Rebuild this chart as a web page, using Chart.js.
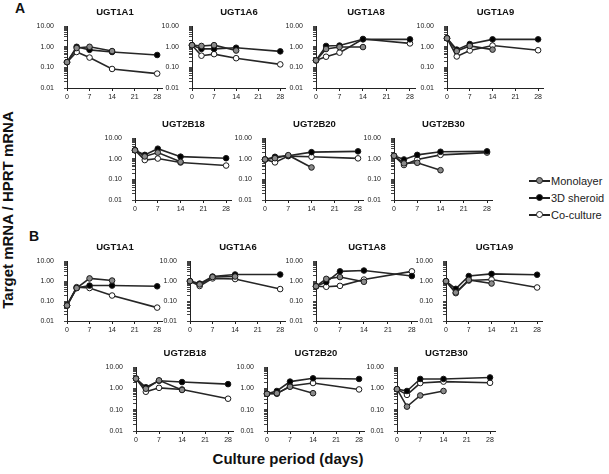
<!DOCTYPE html>
<html>
<head>
<meta charset="utf-8">
<script src="https://cdn.jsdelivr.net/npm/chart.js@4.4.1/dist/chart.umd.min.js"></script>
<style>
  body { margin: 0; background: #fff; }
  #fig { position: relative; width: 609px; height: 474px; overflow: hidden; font-family: 'Liberation Sans', Arial, sans-serif; color: #111; }
  .pane { position: absolute; }
  .ttl { position: absolute; font-weight: bold; font-size: 9.5px; transform: translate(-50%, -50%); white-space: nowrap; }
  .lbl { position: absolute; font-weight: bold; transform: translate(-50%, -50%); white-space: nowrap; }
  .leg { position: absolute; left: 529px; font-size: 11px; color: #222; display: flex; align-items: center; height: 14px; transform: translateY(-50%); }
  .ln { position: relative; width: 21px; height: 2px; background: #222; margin-right: 1px; }
  .ln i { position: absolute; left: 7px; top: -3px; width: 7px; height: 7px; border-radius: 50%; border: 1px solid #222; box-sizing: border-box; }
</style>
</head>
<body>
<div id="fig">
  <div class="lbl" style="left:20px;top:8px;font-size:14px">A</div>
  <div class="lbl" style="left:34px;top:236px;font-size:14px">B</div>
  <div class="lbl" style="left:7px;top:210px;font-size:15px;transform:translate(-50%,-50%) rotate(-90deg)">Target mRNA / HPRT mRNA</div>
  <div class="lbl" style="left:288px;top:458px;font-size:15px">Culture period (days)</div>
  <div class="leg" style="top:181px"><span class="ln"><i style="background:#888"></i></span>Monolayer</div>
  <div class="leg" style="top:198px"><span class="ln"><i style="background:#000"></i></span>3D sheroid</div>
  <div class="leg" style="top:215px"><span class="ln"><i style="background:#fff"></i></span>Co-culture</div>
</div>
<script>
// Dados (dias de cultura, razão mRNA alvo / HPRT)
const days = [0, 3, 7, 14, 28];
const xTicks = [0, 7, 14, 21, 28];
const decades = [0.01, 0.1, 1];

// Painel A
const A_1A1_mono = [0.18, 0.87, 1.0, 0.62];
const A_1A1_sph  = [0.18, 1.0, 0.71, 0.56, 0.40];
const A_1A1_co   = [0.18, 0.56, 0.30, 0.084, 0.05];
const A_1A6_mono = [1.2, 1.1, 1.2, 0.66];
const A_1A6_sph  = [1.2, 0.79, 0.79, 0.9, 0.6];
const A_1A6_co   = [1.2, 0.37, 0.44, 0.28, 0.14];
const A_1A8_mono = [0.22, 0.78, 0.97, 0.97];
const A_1A8_sph  = [0.22, 1.1, 1.15, 2.3, 2.3];
const A_1A8_co   = [0.22, 0.33, 0.52, 2.4, 1.46];
const A_1A9_mono = [2.6, 0.62, 1.1, 0.73];
const A_1A9_sph  = [2.6, 0.73, 1.36, 2.3, 2.3];
const A_1A9_co   = [2.6, 0.34, 0.66, 1.15, 0.68];
const A_2B18_mono = [2.6, 1.3, 2.0, 0.71];
const A_2B18_sph  = [2.6, 1.55, 3.1, 1.27, 1.07];
const A_2B18_co   = [2.6, 0.87, 1.03, 0.66, 0.47];
const A_2B20_mono = [0.93, 1.07, 1.5, 0.38];
const A_2B20_sph  = [0.93, 1.25, 1.4, 2.1, 2.3];
const A_2B20_co   = [0.93, 0.67, 1.35, 1.25, 1.05];
const A_2B30_mono = [1.4, 0.6, 0.64, 0.28];
const A_2B30_sph  = [1.4, 0.93, 1.55, 2.2, 2.3];
const A_2B30_co   = [1.4, 0.5, 0.93, 1.55, 2.0];

// Painel B
const B_1A1_mono = [0.06, 0.45, 1.37, 1.07];
const B_1A1_sph  = [0.06, 0.45, 0.6, 0.6, 0.55];
const B_1A1_co   = [0.06, 0.5, 0.45, 0.19, 0.047];
const B_1A6_mono = [1.0, 0.68, 1.6, 1.7];
const B_1A6_sph  = [1.0, 0.75, 1.7, 2.15, 2.15];
const B_1A6_co   = [1.0, 0.57, 1.37, 1.27, 0.4];
const B_1A8_mono = [0.55, 1.3, 1.6, 0.93];
const B_1A8_sph  = [0.55, 0.9, 3.1, 3.4, 1.8];
const B_1A8_co   = [0.55, 0.52, 0.58, 1.2, 3.1];
const B_1A9_mono = [1.0, 0.27, 1.15, 0.76];
const B_1A9_sph  = [1.0, 0.41, 1.8, 2.3, 2.1];
const B_1A9_co   = [1.0, 0.25, 1.07, 1.2, 0.48];
const B_2B18_mono = [2.9, 0.97, 2.4, 0.85];
const B_2B18_sph  = [2.9, 1.14, 2.3, 2.0, 1.6];
const B_2B18_co   = [2.9, 0.7, 1.07, 0.9, 0.33];
const B_2B20_mono = [0.56, 0.6, 1.2, 0.6];
const B_2B20_sph  = [0.56, 0.76, 2.1, 3.0, 2.8];
const B_2B20_co   = [0.56, 0.56, 1.3, 1.8, 0.9];
const B_2B30_mono = [0.93, 0.14, 0.47, 0.76];
const B_2B30_sph  = [0.93, 0.76, 2.8, 2.8, 3.3];
const B_2B30_co   = [0.93, 0.5, 1.8, 2.1, 1.85];

// posição de cada gráfico: x do eixo (dia 0), x do dia 28, y de 10.00, y de 0.01
const panels = [
  { title: 'UGT1A1',  box: [67, 157, 20, 88],    d: [A_1A1_mono, A_1A1_sph, A_1A1_co] },
  { title: 'UGT1A6',  box: [192, 280, 20, 88],   d: [A_1A6_mono, A_1A6_sph, A_1A6_co] },
  { title: 'UGT1A8',  box: [316, 410, 20, 88],   d: [A_1A8_mono, A_1A8_sph, A_1A8_co] },
  { title: 'UGT1A9',  box: [447, 538, 20, 88],   d: [A_1A9_mono, A_1A9_sph, A_1A9_co] },
  { title: 'UGT2B18', box: [135, 226, 132, 200], d: [A_2B18_mono, A_2B18_sph, A_2B18_co] },
  { title: 'UGT2B20', box: [265, 358, 132, 200], d: [A_2B20_mono, A_2B20_sph, A_2B20_co] },
  { title: 'UGT2B30', box: [394, 487, 132, 200], d: [A_2B30_mono, A_2B30_sph, A_2B30_co] },
  { title: 'UGT1A1',  box: [67, 157, 255, 321],  d: [B_1A1_mono, B_1A1_sph, B_1A1_co] },
  { title: 'UGT1A6',  box: [190, 280, 255, 321], d: [B_1A6_mono, B_1A6_sph, B_1A6_co] },
  { title: 'UGT1A8',  box: [316, 412, 255, 321], d: [B_1A8_mono, B_1A8_sph, B_1A8_co] },
  { title: 'UGT1A9',  box: [446, 537, 255, 321], d: [B_1A9_mono, B_1A9_sph, B_1A9_co] },
  { title: 'UGT2B18', box: [136, 228, 361, 431], d: [B_2B18_mono, B_2B18_sph, B_2B18_co] },
  { title: 'UGT2B20', box: [267, 359, 361, 431], d: [B_2B20_mono, B_2B20_sph, B_2B20_co] },
  { title: 'UGT2B30', box: [397, 490, 361, 431], d: [B_2B30_mono, B_2B30_sph, B_2B30_co] }
];

const styles = [
  { label: 'Monolayer',  fill: '#8a8a8a' },
  { label: '3D sheroid', fill: '#000000' },
  { label: 'Co-culture', fill: '#ffffff' }
];

const fig = document.getElementById('fig');
const XMAX = 29.5;
const L = 36, T = 8, R = 6, B = 16;

function isDecade(v) {
  const e = Math.log10(v);
  return Math.abs(e - Math.round(e)) < 1e-6;
}

// marcas do eixo log: 1..9 x cada década, mais o 10
function logTicks() {
  const out = [];
  decades.forEach(d => {
    for (let m = 1; m <= 9; m++) out.push({ value: +(m * d).toPrecision(3) });
  });
  out.push({ value: 10 });
  return out;
}

function makePanel(p) {
  const [x0, x28, y10, y001] = p.box;
  const plotW = (x28 - x0) * XMAX / 28;
  const plotH = y001 - y10;
  const w = Math.round(L + plotW + R);
  const h = Math.round(T + plotH + B);

  const wrap = document.createElement('div');
  wrap.className = 'pane';
  wrap.style.left = (x0 - L) + 'px';
  wrap.style.top = (y10 - T) + 'px';
  const canvas = document.createElement('canvas');
  canvas.width = w;
  canvas.height = h;
  wrap.appendChild(canvas);
  fig.appendChild(wrap);

  const ttl = document.createElement('div');
  ttl.className = 'ttl';
  ttl.textContent = p.title;
  ttl.style.left = ((x0 + x28) / 2 + 3) + 'px';
  ttl.style.top = (y10 - 9) + 'px';
  fig.appendChild(ttl);

  const datasets = p.d.map((vals, i) => ({
    label: styles[i].label,
    data: vals.map((v, k) => ({ x: days[k], y: v })),
    borderColor: '#262626',
    borderWidth: 1.6,
    pointRadius: 2.8,
    pointBorderWidth: 1,
    pointBackgroundColor: styles[i].fill,
    pointBorderColor: '#1a1a1a',
    tension: 0,
    clip: false
  }));

  const tickFont = { family: "'Liberation Sans', Arial, sans-serif", size: 7 };

  new Chart(canvas.getContext('2d'), {
    type: 'line',
    data: { datasets: datasets },
    options: {
      responsive: false,
      animation: false,
      layout: { padding: { top: T, right: R, left: 0, bottom: 0 } },
      plugins: { legend: { display: false }, tooltip: { enabled: false } },
      scales: {
        x: {
          type: 'linear',
          min: 0,
          max: XMAX,
          afterBuildTicks: s => { s.ticks = xTicks.map(v => ({ value: v })); },
          afterFit: s => { s.height = B; },
          border: { color: '#222', width: 1 },
          grid: { drawOnChartArea: false, color: '#222', tickLength: 3 },
          ticks: { color: '#222', font: tickFont, padding: 2, maxRotation: 0 }
        },
        y: {
          type: 'logarithmic',
          min: 0.01,
          max: 10,
          afterBuildTicks: s => { s.ticks = logTicks(); },
          afterFit: s => { s.width = L; },
          border: { color: '#222', width: 1 },
          grid: { drawOnChartArea: false, color: '#444', tickLength: 3 },
          ticks: {
            color: '#222',
            font: tickFont,
            padding: 10,
            autoSkip: false,
            callback: v => isDecade(v) ? Number(v).toFixed(2) : ''
          }
        }
      }
    }
  });
}

panels.forEach(makePanel);
</script>
</body>
</html>
